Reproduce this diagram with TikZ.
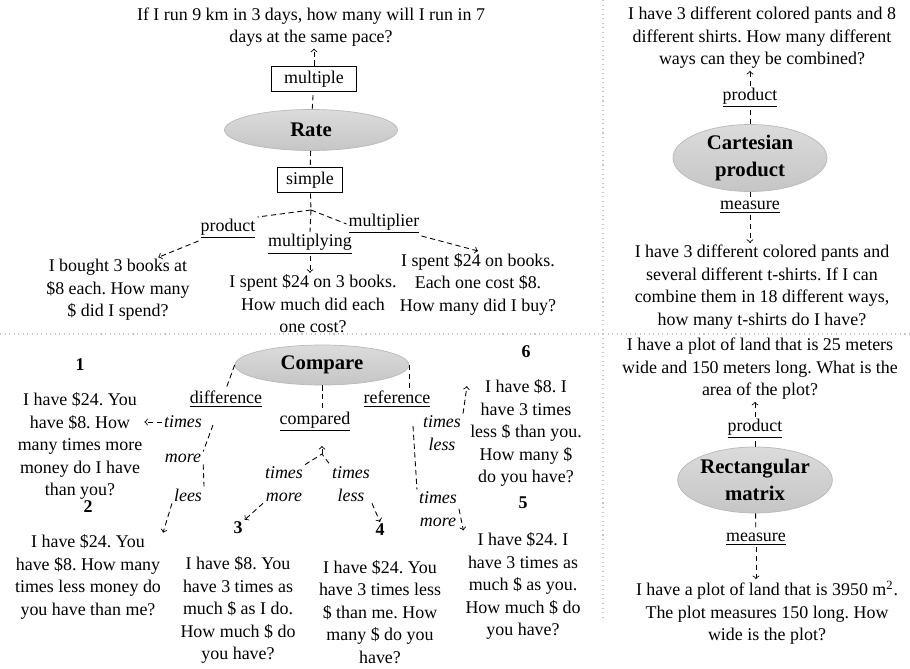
\documentclass[tikz,border=0pt]{standalone}
\usepackage{fontspec}
\setmainfont{Liberation Serif}
\usetikzlibrary{shapes.geometric}
\newcommand\qfont{\fontsize{10.2}{12.8}\selectfont}
\frenchspacing

\begin{document}
\begin{tikzpicture}[x=0.02cm, y=-0.02cm,
        qtext/.style={align=center, font=\qfont, inner sep=1pt},
        ulabel/.style={font=\qfont, inner sep=1pt},
        ilabel/.style={align=center, font=\qfont\itshape, inner sep=1pt},
        num/.style={font=\qfont\bfseries, inner sep=1pt},
        lbox/.style={draw, line width=0.9pt, font=\qfont, minimum height=0.5cm, inner sep=2pt},
        oval/.style={ellipse, draw=gray!55, top color=gray!28, bottom color=gray!45,
            align=center, inner sep=0pt, font=\fontsize{11.8}{15}\selectfont\bfseries},
        link/.style={dash pattern=on 3pt off 2pt, line width=0.5pt},
        divider/.style={gray!45, dotted, line width=0.6pt}]

        \useasboundingbox (0,0) rectangle (910,669);

        % === DIVIDERS ===
        \draw[divider] (0,334) -- (910,334);
        \draw[divider] (603,0) -- (603,617);

        % === RATE ===
        \node[qtext] (qrun) at (311,27) {If I run 9 km in 3 days, how many will I run in 7\\days at the same pace?};
        \node[lbox, minimum width=1.7cm] (mult) at (314,79) {multiple};
        \node[oval, minimum width=3.46cm, minimum height=0.82cm] (rate) at (311,130) {Rate};
        \node[lbox, minimum width=1.3cm] (simp) at (310,180) {simple};
        \coordinate (rj) at (311,210);
        \node[ulabel] (rprod) at (228,229) {\underline{product}};
        \node[ulabel] (rmult) at (384,224) {\underline{multiplier}};
        \node[ulabel] (rmuly) at (310,244) {\underline{multiplying}};
        \node[qtext] (qbought) at (118,290) {I bought 3 books at\\\$8 each. How many\\\$ did I spend?};
        \node[qtext] (qspent) at (313,304) {I spent \$24 on 3 books.\\How much did each\\one cost?};
        \node[qtext] (qbuy) at (478,284) {I spent \$24 on books.\\Each one cost \$8.\\How many did I buy?};

        \draw[link, ->] (mult) -- (qrun.south -| mult.north);
        \draw[link] (rate) -- (mult);
        \draw[link] (rate) -- (simp);
        \draw[link] (simp) -- (rj);
        \draw[link] (rj) -- (rprod.north east);
        \draw[link] (rj) -- (rmult.west);
        \draw[link] (rj) -- (rmuly.north);
        \draw[link, ->] (rprod.south west) -- (qbought.39);
        \draw[link, ->] (rmult.south east) -- (qbuy.north);
        \draw[link, ->] (rmuly.south) -- (qspent.north -| rmuly.south);

        % === CARTESIAN PRODUCT ===
        \node[qtext] (qpants) at (762,38) {I have 3 different colored pants and 8\\different shirts. How many different\\ways can they be combined?};
        \node[ulabel] (cprod) at (750,98) {\underline{product}};
        \node[oval, minimum width=3.08cm, minimum height=1.34cm] (cart) at (750,158) {Cartesian\\product};
        \node[ulabel] (cmeas) at (750,207) {\underline{measure}};
        \node[qtext] (qshirts) at (762,287) {I have 3 different colored pants and\\several different t-shirts. If I can\\combine them in 18 different ways,\\how many t-shirts do I have?};

        \draw[link] (cart) -- (cprod);
        \draw[link, ->] (cprod) -- (qpants.south -| cprod.north);
        \draw[link] (cart) -- (cmeas);
        \draw[link, ->] (cmeas) -- (qshirts.north -| cmeas.south);

        % === RECTANGULAR MATRIX ===
        \node[qtext] (qplot) at (760,369) {I have a plot of land that is 25 meters\\wide and 150 meters long. What is the\\area of the plot?};
        \node[ulabel] (mprod) at (755,429) {\underline{product}};
        \node[oval, minimum width=3.06cm, minimum height=1.32cm] (rect) at (755,480) {Rectangular\\matrix};
        \node[ulabel] (mmeas) at (756,539) {\underline{measure}};
        \node[qtext] (qwide) at (767,613) {I have a plot of land that is 3950 m\textsuperscript{2}.\\The plot measures 150 long. How\\wide is the plot?};

        \draw[link] (rect) -- (mprod);
        \draw[link, ->] (mprod) -- (qplot.south -| mprod.north);
        \draw[link] (rect) -- (mmeas);
        \draw[link, ->] (mmeas) -- (qwide.north -| mmeas.south);

        % === COMPARE ===
        \node[oval, minimum width=3.48cm, minimum height=0.8cm] (comp) at (322,365) {Compare};
        \node[ulabel] (cdiff) at (226,399) {\underline{difference}};
        \node[ulabel] (ccomp) at (315,422) {\underline{compared}};
        \node[ulabel] (cref) at (397,399) {\underline{reference}};

        \node[ilabel] (dtimes) at (183,422) {times};
        \node[ilabel] (dmore) at (183,458) {more};
        \node[ilabel] (dlees) at (188,495) {lees};
        \node[ilabel] (ctm) at (284,484) {times\\more};
        \node[ilabel] (ctl) at (351,484) {times\\less};
        \node[ilabel] (rtl) at (442,433) {times\\less};
        \node[ilabel] (rtm) at (438,509) {times\\more};
        \coordinate (dk) at (213,425);
        \coordinate (cj) at (322,454);
        \coordinate (ck) at (322,446);
        \coordinate (rk) at (413,426);

        \node[num] (n1) at (80,365) {1};
        \node[qtext] (q1) at (80,446) {I have \$24. You\\have \$8. How\\many times more\\money do I have\\than you?};
        \node[num] (n2) at (88,507) {2};
        \node[qtext] (q2) at (88,577) {I have \$24. You\\have \$8. How many\\times less money do\\you have than me?};
        \node[num] (n3) at (238,528) {3};
        \node[qtext] (q3) at (238,610) {I have \$8. You\\have 3 times as\\much \$ as I do.\\How much \$ do\\you have?};
        \node[num] (n4) at (380,530) {4};
        \node[qtext] (q4) at (380,612) {I have \$24. You\\have 3 times less\\\$ than me. How\\many \$ do you\\have?};
        \node[num] (n6) at (526,352) {6};
        \node[qtext] (q6) at (526,433) {I have \$8. I\\have 3 times\\less \$ than you.\\How many \$\\do you have?};
        \node[num] (n5) at (523,503) {5};
        \node[qtext] (q5) at (523,586) {I have \$24. I\\have 3 times as\\much \$ as you.\\How much \$ do\\you have?};

        \draw[link] (comp.west) -- (cdiff.north);
        \draw[link] (comp.south) -- (ccomp.north -| comp.south);
        \draw[link] (comp.east) -- (cref.north -| comp.east);

        % difference branch
        \draw[link, ->] (dtimes.west) -- (q1.east |- dtimes.west);
        \draw[link] (dk) -- (dmore.north east);
        \draw[link] (dmore.south east) -- (dlees.north east);
        \draw[link, ->] (dlees.south west) -- (q2.north east);

        % compared branch
        \draw[link] (ctm.north east) -- (cj) -- (ctl.north west);
        \draw[link, ->] (cj) -- (ck);
        \draw[link, ->] (ctm.south west) -- (n3.north east);
        \draw[link, ->] (ctl.south east) -- (n4.north);

        % reference branch
        \draw[link] (rk) -- (rtm.north west);
        \draw[link, ->, shorten >=5pt] (rtl.north east) -- (q6.north west);
        \draw[link, ->] (rtm.east) -- (q5.north west);

    \end{tikzpicture}
\end{document}
